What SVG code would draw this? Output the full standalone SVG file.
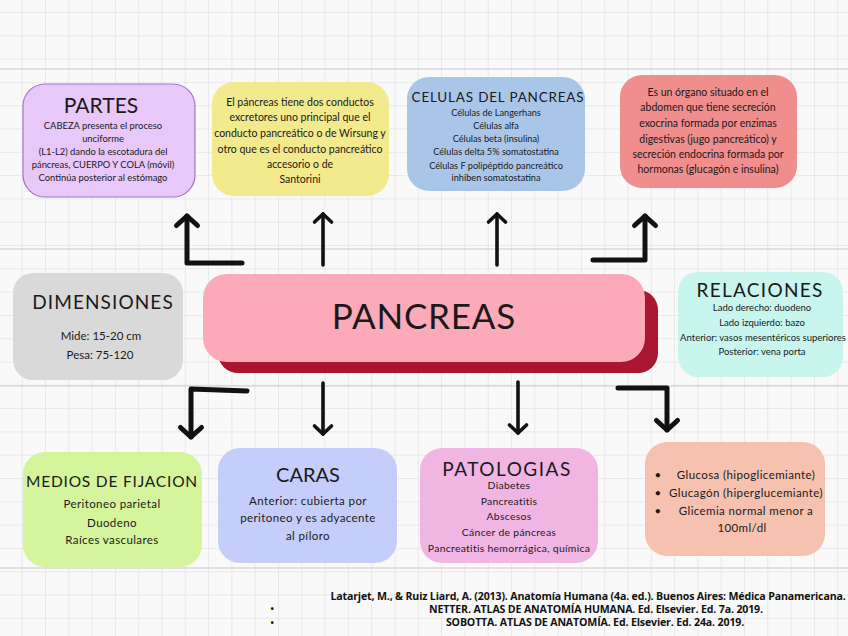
<svg xmlns="http://www.w3.org/2000/svg" width="848" height="636" viewBox="0 0 848 636">
<defs>
<pattern id="grid" x="21.7" y="12" width="23.3" height="23.3" patternUnits="userSpaceOnUse">
<path d="M0 0 V23.3 M0 0 H23.3" fill="none" stroke="#d6d6d6" stroke-width="0.9"/>
</pattern>
<marker id="headThick" markerUnits="userSpaceOnUse" markerWidth="30" markerHeight="30" refX="15" refY="15" orient="auto" overflow="visible">
<path d="M5.5 4.5 L15 15 L5.5 25.5" fill="none" stroke="#111" stroke-width="5" stroke-linecap="round" stroke-linejoin="round"/>
</marker>
<marker id="headThin" markerUnits="userSpaceOnUse" markerWidth="30" markerHeight="30" refX="15" refY="15" orient="auto" overflow="visible">
<path d="M7 6.5 L15 15 L7 23.5" fill="none" stroke="#111" stroke-width="3.6" stroke-linecap="round" stroke-linejoin="round"/>
</marker>
</defs>
<style>
text{font-family:Lato,"Liberation Sans",sans-serif;fill:#1a1a1a;text-anchor:middle}
.t{font-size:19px;letter-spacing:1.3px}
.b{font-size:9.4px}
.m{font-size:10.5px}
.l{font-size:11.5px;letter-spacing:0.4px}
.ref{font-family:"Open Sans","Liberation Sans",sans-serif;font-weight:bold;font-size:10.6px;letter-spacing:-0.15px;fill:#111}
.thick{fill:none;stroke:#111;stroke-width:5;stroke-linecap:round;stroke-linejoin:round;marker-end:url(#headThick)}
.thin{fill:none;stroke:#111;stroke-width:3.6;stroke-linecap:round;stroke-linejoin:round;marker-end:url(#headThin)}
</style>
<rect width="848" height="636" fill="#f9f9f9"/>
<rect width="848" height="636" fill="url(#grid)"/>
<g stroke="#cacaca" stroke-width="1.1">
<line x1="0" y1="69" x2="848" y2="69"/>
<line x1="0" y1="249" x2="848" y2="249"/>
<line x1="0" y1="386" x2="848" y2="386"/>
<line x1="0" y1="568" x2="848" y2="568"/>
</g>

<g id="connectors">
<path class="thick" d="M242 263 L187 263 L187 216"/>
<path class="thin" d="M323 265 L323 214"/>
<path class="thin" d="M497 265 L497 214"/>
<path class="thick" d="M593 260 L645 260 L645 216"/>
<path class="thick" d="M247 391 L191 389 L191 437"/>
<path class="thin" d="M323 383 L323 434"/>
<path class="thin" d="M518 382 L518 433"/>
<path class="thick" d="M618 388 L667 388 L667 430"/>
</g>

<g id="partes">
<rect x="23" y="84" width="172" height="113" rx="22" fill="#e7c8f8" stroke="#a872cc" stroke-width="1.2"/>
<text class="t" x="101" y="113" style="font-size:21px;letter-spacing:0">PARTES</text>
<text class="b" x="103" y="129">CABEZA presenta el proceso</text>
<text class="b" x="103" y="142">unciforme</text>
<text class="b" x="103" y="155">(L1-L2) dando la escotadura del</text>
<text class="b" x="103" y="168">páncreas, CUERPO Y COLA (móvil)</text>
<text class="b" x="103" y="181">Continúa posterior al estómago</text>
</g>

<g id="conductos">
<rect x="212" y="82" width="177" height="114" rx="22" fill="#f3e98d"/>
<text class="m" x="300" y="106">El páncreas tiene dos conductos</text>
<text class="m" x="300" y="121">excretores uno principal que el</text>
<text class="m" x="300" y="137">conducto pancreático o de Wirsung y</text>
<text class="m" x="300" y="153">otro que es el conducto pancreático</text>
<text class="m" x="300" y="168">accesorio o de</text>
<text class="m" x="300" y="183">Santorini</text>
</g>

<g id="celulas">
<rect x="407" y="77" width="178" height="114" rx="22" fill="#a9c6e9"/>
<text class="t" x="498" y="102" style="font-size:13.5px;letter-spacing:0.8px">CELULAS DEL PANCREAS</text>
<text class="b" x="496" y="116" style="font-size:9.2px">Células de Langerhans</text>
<text class="b" x="496" y="129" style="font-size:9.2px">Células alfa</text>
<text class="b" x="496" y="142" style="font-size:9.2px">Células beta (insulina)</text>
<text class="b" x="496" y="155" style="font-size:9.2px">Células delta 5% somatostatina</text>
<text class="b" x="496" y="169" style="font-size:9.2px">Células F polipéptido pancreático</text>
<text class="b" x="496" y="181" style="font-size:9.2px">inhiben somatostatina</text>
</g>

<g id="organo">
<rect x="620" y="75" width="177" height="113" rx="22" fill="#f08d8d"/>
<text class="m" x="708" y="96">Es un órgano situado en el</text>
<text class="m" x="708" y="111">abdomen que tiene secreción</text>
<text class="m" x="708" y="127">exocrina formada por enzimas</text>
<text class="m" x="708" y="143">digestivas (jugo pancreático) y</text>
<text class="m" x="708" y="158">secreción endocrina formada por</text>
<text class="m" x="708" y="173">hormonas (glucagón e insulina)</text>
</g>

<g id="dimensiones">
<rect x="13" y="273" width="170" height="107" rx="20" fill="#d9d9d9"/>
<text class="t" x="103" y="309" style="letter-spacing:1.1px">DIMENSIONES</text>
<text class="m" x="101" y="340" style="font-size:11.5px">Mide: 15-20 cm</text>
<text class="m" x="100" y="359" style="font-size:11.5px">Pesa: 75-120</text>
</g>

<g id="pancreas">
<rect x="218" y="290" width="440" height="83" rx="20" fill="#a8162f"/>
<rect x="203" y="274" width="442" height="88" rx="24" fill="#fca9ba"/>
<text x="424" y="329" style="font-size:35px;letter-spacing:0.8px">PANCREAS</text>
</g>

<g id="relaciones">
<rect x="678" y="272" width="165" height="105" rx="20" fill="#c8f5ee"/>
<text class="t" x="760" y="297">RELACIONES</text>
<text class="b" x="762" y="311" style="font-size:9.5px">Lado derecho: duodeno</text>
<text class="b" x="762" y="326" style="font-size:9.5px">Lado izquierdo: bazo</text>
<text class="b" x="763" y="341" style="font-size:9.5px">Anterior: vasos mesentéricos superiores</text>
<text class="b" x="762" y="355" style="font-size:9.5px">Posterior: vena porta</text>
</g>

<g id="fijacion">
<rect x="23" y="452" width="179" height="115" rx="22" fill="#d4f59b"/>
<text class="t" x="112" y="487" style="font-size:15.5px;letter-spacing:0.8px">MEDIOS DE FIJACION</text>
<text class="l" x="112" y="508">Peritoneo parietal</text>
<text class="l" x="112" y="527">Duodeno</text>
<text class="l" x="112" y="544">Raíces vasculares</text>
</g>

<g id="caras">
<rect x="218" y="448" width="179" height="115" rx="22" fill="#c5cdfb"/>
<text class="t" x="308" y="482" style="font-size:20px;letter-spacing:0">CARAS</text>
<text class="l" x="308" y="505">Anterior: cubierta por</text>
<text class="l" x="308" y="522">peritoneo y es adyacente</text>
<text class="l" x="308" y="540">al píloro</text>
</g>

<g id="patologias">
<rect x="420" y="448" width="178" height="115" rx="22" fill="#f0b5e2"/>
<text class="t" x="507" y="476" style="letter-spacing:1.5px">PATOLOGIAS</text>
<text class="b" x="509" y="489" style="font-size:10.4px;letter-spacing:0.3px">Diabetes</text>
<text class="b" x="509" y="505" style="font-size:10.4px;letter-spacing:0.3px">Pancreatitis</text>
<text class="b" x="509" y="520" style="font-size:10.4px;letter-spacing:0.3px">Abscesos</text>
<text class="b" x="509" y="536" style="font-size:10.4px;letter-spacing:0.3px">Cáncer de páncreas</text>
<text class="b" x="509" y="552" style="font-size:10.4px;letter-spacing:0.3px">Pancreatitis hemorrágica, química</text>
</g>

<g id="hormonas">
<rect x="645" y="442" width="180" height="114" rx="22" fill="#f7c1af"/>
<text class="l" x="658" y="479">•</text>
<text class="l" x="746" y="479">Glucosa (hipoglicemiante)</text>
<text class="l" x="658" y="497">•</text>
<text class="l" x="746" y="497">Glucagón (hiperglucemiante)</text>
<text class="l" x="658" y="515">•</text>
<text class="l" x="746" y="515">Glicemia normal menor a</text>
<text class="l" x="742" y="532">100ml/dl</text>
</g>

<g id="referencias">
<text class="ref" x="588" y="600">Latarjet, M., &amp; Ruiz Liard, A. (2013). Anatomía Humana (4a. ed.). Buenos Aires: Médica Panamericana.</text>
<text class="ref" x="272" y="612" style="font-size:9px">•</text>
<text class="ref" x="596" y="613">NETTER. ATLAS DE ANATOMÍA HUMANA. Ed. Elsevier. Ed. 7a. 2019.</text>
<text class="ref" x="272" y="626" style="font-size:9px">•</text>
<text class="ref" x="595" y="626">SOBOTTA. ATLAS DE ANATOMÍA. Ed. Elsevier. Ed. 24a. 2019.</text>
</g>
</svg>
